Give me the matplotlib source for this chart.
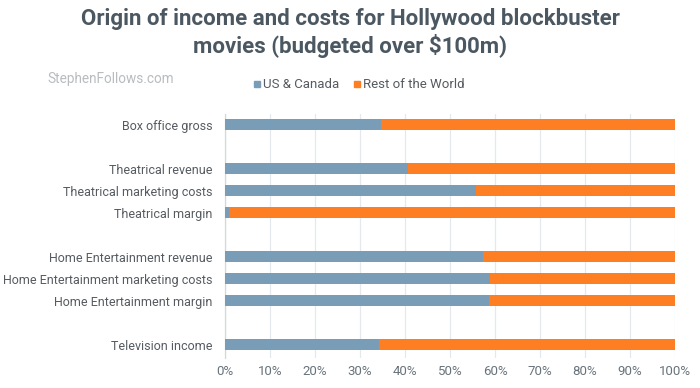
import numpy as np
import matplotlib
matplotlib.use("Agg")
import matplotlib.pyplot as plt
from matplotlib.patches import Rectangle

plt.rcParams['font.family'] = ['Roboto', 'DejaVu Sans']

categories = ['Box office gross',
              'Theatrical revenue', 'Theatrical marketing costs', 'Theatrical margin',
              'Home Entertainment revenue', 'Home Entertainment marketing costs',
              'Home Entertainment margin',
              'Television income']
groups = [0, 1, 1, 1, 2, 2, 2, 3]
us_canada = [34.7, 40.7, 55.8, 0.8, 57.3, 58.8, 58.7, 34.3]
rest_of_world = [100 - v for v in us_canada]

blue = '#7a9db7'
orange = '#fd7e23'
text_col = '#555b60'
tick_col = '#68737b'

fig = plt.figure(figsize=(7, 3.88), dpi=100)
ax = fig.add_axes([225 / 700, 30 / 388, 450 / 700, 244 / 388])

ypos = np.arange(len(categories)) + np.array(groups)
ax.barh(ypos, us_canada, height=0.5, color=blue, zorder=3)
ax.barh(ypos, rest_of_world, left=us_canada, height=0.5, color=orange, zorder=3)

ax.set_xlim(0, 100)
ax.set_ylim(ypos[-1] + 0.6, -0.5)
ax.set_yticks(ypos)
ax.set_yticklabels(categories, fontsize=9, color=text_col)
ax.set_xticks(np.arange(0, 101, 10))
ax.set_xticklabels([f'{t}%' for t in range(0, 101, 10)], fontsize=9.5, color=tick_col)
ax.tick_params(axis='both', length=0, pad=5)
ax.tick_params(axis='y', pad=9)
ax.grid(axis='x', color='#e4e9ee', linewidth=0.9, zorder=0)
for side in ['top', 'right', 'bottom']:
    ax.spines[side].set_visible(False)
ax.spines['left'].set_color('#d3d8dc')
ax.spines['left'].set_linewidth(0.9)

fig.text(0.5, 1 - 33 / 388, 'Origin of income and costs for Hollywood blockbuster\nmovies (budgeted over $100m)',
         ha='center', va='center', fontsize=16, fontweight='bold', color='#4b5862',
         linespacing=1.25)
fig.text(47 / 700, 1 - 79 / 388, 'StephenFollows.com', ha='left', va='center',
         fontsize=9.8, color='#b9bcbf')

# legend
leg_y = 1 - 84 / 388
fig.patches.append(Rectangle((254 / 700, leg_y - 3 / 388), 6 / 700, 6 / 388,
                             transform=fig.transFigure, color=blue))
fig.text(263 / 700, leg_y, 'US & Canada', ha='left', va='center', fontsize=9.5, color=text_col)
fig.patches.append(Rectangle((354 / 700, leg_y - 3 / 388), 6 / 700, 6 / 388,
                             transform=fig.transFigure, color=orange))
fig.text(363 / 700, leg_y, 'Rest of the World', ha='left', va='center', fontsize=9.5, color=text_col)

fig.savefig('out.png', dpi=100)
